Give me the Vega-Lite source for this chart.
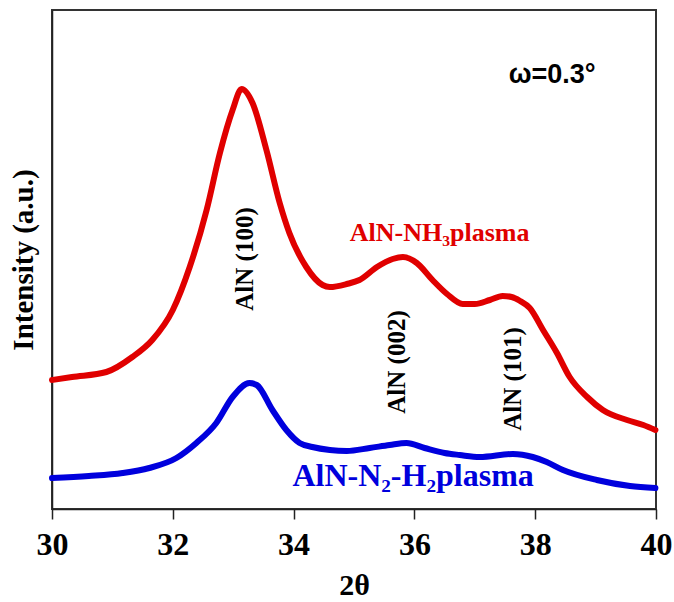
{
  "$schema": "https://vega.github.io/schema/vega-lite/v6.json",
  "width": 604,
  "height": 499,
  "autosize": {"type": "none"},
  "padding": {"left": 52, "top": 10, "right": 18, "bottom": 93},
  "background": "white",
  "config": {
    "view": {"stroke": "#333333", "strokeWidth": 2},
    "axis": {"grid": false, "domainColor": "#222222", "domainWidth": 1.5, "tickColor": "#222222", "tickWidth": 1.5}
  },
  "datasets": {
    "curves": [
      {"t": 30.00, "I": 129, "s": "NH3"},
      {"t": 30.33, "I": 132, "s": "NH3"},
      {"t": 30.90, "I": 137, "s": "NH3"},
      {"t": 31.33, "I": 152, "s": "NH3"},
      {"t": 31.66, "I": 169, "s": "NH3"},
      {"t": 32.00, "I": 199, "s": "NH3"},
      {"t": 32.28, "I": 242, "s": "NH3"},
      {"t": 32.56, "I": 299, "s": "NH3"},
      {"t": 32.78, "I": 356, "s": "NH3"},
      {"t": 32.99, "I": 399, "s": "NH3"},
      {"t": 33.14, "I": 420, "s": "NH3"},
      {"t": 33.32, "I": 406, "s": "NH3"},
      {"t": 33.55, "I": 359, "s": "NH3"},
      {"t": 33.77, "I": 306, "s": "NH3"},
      {"t": 33.93, "I": 276, "s": "NH3"},
      {"t": 34.21, "I": 242, "s": "NH3"},
      {"t": 34.48, "I": 224, "s": "NH3"},
      {"t": 34.60, "I": 222, "s": "NH3"},
      {"t": 34.88, "I": 225, "s": "NH3"},
      {"t": 35.09, "I": 229, "s": "NH3"},
      {"t": 35.38, "I": 242, "s": "NH3"},
      {"t": 35.64, "I": 250, "s": "NH3"},
      {"t": 35.81, "I": 252, "s": "NH3"},
      {"t": 36.04, "I": 246, "s": "NH3"},
      {"t": 36.30, "I": 229, "s": "NH3"},
      {"t": 36.54, "I": 215, "s": "NH3"},
      {"t": 36.80, "I": 205, "s": "NH3"},
      {"t": 37.00, "I": 205, "s": "NH3"},
      {"t": 37.25, "I": 209, "s": "NH3"},
      {"t": 37.46, "I": 213, "s": "NH3"},
      {"t": 37.61, "I": 212, "s": "NH3"},
      {"t": 37.75, "I": 208, "s": "NH3"},
      {"t": 37.91, "I": 201, "s": "NH3"},
      {"t": 38.13, "I": 179, "s": "NH3"},
      {"t": 38.36, "I": 156, "s": "NH3"},
      {"t": 38.57, "I": 132, "s": "NH3"},
      {"t": 38.86, "I": 112, "s": "NH3"},
      {"t": 39.12, "I": 99, "s": "NH3"},
      {"t": 39.52, "I": 89, "s": "NH3"},
      {"t": 39.79, "I": 84, "s": "NH3"},
      {"t": 39.99, "I": 79, "s": "NH3"},
      {"t": 30.00, "I": 31, "s": "N2H2"},
      {"t": 30.61, "I": 33, "s": "N2H2"},
      {"t": 31.17, "I": 36, "s": "N2H2"},
      {"t": 31.61, "I": 41, "s": "N2H2"},
      {"t": 32.06, "I": 51, "s": "N2H2"},
      {"t": 32.39, "I": 66, "s": "N2H2"},
      {"t": 32.72, "I": 86, "s": "N2H2"},
      {"t": 32.99, "I": 112, "s": "N2H2"},
      {"t": 33.27, "I": 126, "s": "N2H2"},
      {"t": 33.39, "I": 124, "s": "N2H2"},
      {"t": 33.65, "I": 99, "s": "N2H2"},
      {"t": 33.88, "I": 79, "s": "N2H2"},
      {"t": 34.10, "I": 66, "s": "N2H2"},
      {"t": 34.31, "I": 62, "s": "N2H2"},
      {"t": 34.60, "I": 59, "s": "N2H2"},
      {"t": 34.88, "I": 58, "s": "N2H2"},
      {"t": 35.26, "I": 61, "s": "N2H2"},
      {"t": 35.59, "I": 64, "s": "N2H2"},
      {"t": 35.87, "I": 66, "s": "N2H2"},
      {"t": 36.17, "I": 61, "s": "N2H2"},
      {"t": 36.50, "I": 56, "s": "N2H2"},
      {"t": 36.75, "I": 54, "s": "N2H2"},
      {"t": 37.08, "I": 52, "s": "N2H2"},
      {"t": 37.63, "I": 55, "s": "N2H2"},
      {"t": 37.96, "I": 52, "s": "N2H2"},
      {"t": 38.19, "I": 47, "s": "N2H2"},
      {"t": 38.46, "I": 39, "s": "N2H2"},
      {"t": 39.02, "I": 29, "s": "N2H2"},
      {"t": 39.57, "I": 23, "s": "N2H2"},
      {"t": 39.99, "I": 21, "s": "N2H2"}
    ],
    "peaks": [
      {"t": 33.19, "I": 250, "label": "AlN (100)"},
      {"t": 35.71, "I": 147, "label": "AlN (002)"},
      {"t": 37.63, "I": 130, "label": "AlN (101)"}
    ],
    "series": [
      {"t": 34.93, "I": 276, "label": "AlN-NH₃plasma", "s": "NH3"},
      {"t": 33.98, "I": 33, "label": "AlN-N₂-H₂plasma", "s": "N2H2"}
    ],
    "note": [
      {"t": 38.28, "I": 434, "label": "ω=0.3°"}
    ]
  },
  "layer": [
    {
      "data": {"name": "curves"},
      "mark": {"type": "line", "strokeWidth": 6, "strokeJoin": "round", "strokeCap": "round", "interpolate": "monotone"},
      "encoding": {
        "x": {
          "field": "t", "type": "quantitative",
          "scale": {"domain": [30, 40], "nice": false},
          "axis": {
            "title": "2θ", "values": [30, 32, 34, 36, 38, 40], "format": "d",
            "titleFont": "Liberation Serif", "titleFontSize": 30, "titleFontWeight": "bold", "titleColor": "black", "titlePadding": 10,
            "labelFont": "Liberation Serif", "labelFontSize": 32, "labelFontWeight": "bold", "labelColor": "black", "labelPadding": 10,
            "tickSize": 10, "labelFlush": false
          }
        },
        "y": {
          "field": "I", "type": "quantitative",
          "scale": {"domain": [0, 499], "nice": false},
          "axis": {
            "title": "Intensity (a.u.)", "labels": false, "ticks": false,
            "titleFont": "Liberation Serif", "titleFontSize": 29, "titleFontWeight": "bold", "titleColor": "black", "titlePadding": 14
          }
        },
        "color": {
          "field": "s", "type": "nominal",
          "scale": {"domain": ["NH3", "N2H2"], "range": ["#e00000", "#0000dd"]},
          "legend": null
        },
        "detail": {"field": "s"}
      }
    },
    {
      "data": {"name": "peaks"},
      "mark": {"type": "text", "angle": 270, "font": "Liberation Serif", "fontSize": 25, "fontWeight": "bold", "color": "black", "align": "center", "baseline": "middle"},
      "encoding": {
        "x": {"field": "t", "type": "quantitative"},
        "y": {"field": "I", "type": "quantitative"},
        "text": {"field": "label"}
      }
    },
    {
      "data": {"name": "series"},
      "mark": {"type": "text", "font": "Liberation Serif", "fontWeight": "bold", "align": "left", "baseline": "middle"},
      "encoding": {
        "x": {"field": "t", "type": "quantitative"},
        "y": {"field": "I", "type": "quantitative"},
        "text": {"field": "label"},
        "size": {"field": "s", "type": "nominal", "scale": {"domain": ["NH3", "N2H2"], "range": [26, 32]}, "legend": null},
        "color": {"field": "s", "type": "nominal", "scale": {"domain": ["NH3", "N2H2"], "range": ["#e00000", "#0000dd"]}, "legend": null}
      }
    },
    {
      "data": {"name": "note"},
      "mark": {"type": "text", "font": "Liberation Sans", "fontSize": 27, "fontWeight": "bold", "color": "black", "align": "center", "baseline": "middle"},
      "encoding": {
        "x": {"field": "t", "type": "quantitative"},
        "y": {"field": "I", "type": "quantitative"},
        "text": {"field": "label"}
      }
    }
  ]
}
